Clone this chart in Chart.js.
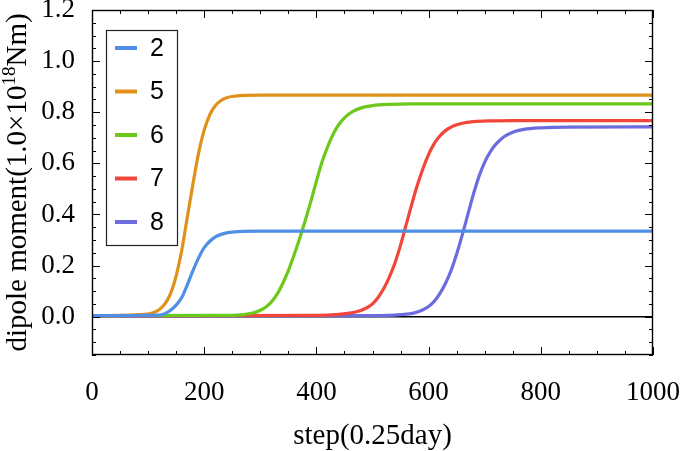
<!DOCTYPE html>
<html>
<head>
<meta charset="utf-8">
<script src="https://cdn.jsdelivr.net/npm/chart.js@4"></script>
<style>
  html, body { margin: 0; padding: 0; background: #fff; }
</style>
</head>
<body>
<canvas id="chart" width="685" height="451"></canvas>
<script>
// values
const seriesNames = ['2', '5', '6', '7', '8'];
const seriesColors = ['#4f8fe6', '#e0911c', '#6cc81a', '#f2463a', '#6c6ce0'];

const steps2 = [0, 120, 130, 140, 150, 160, 170, 180, 190, 200, 210, 220, 230, 240, 255, 270, 300, 1000];
const vals2  = [0.004, 0.006, 0.012, 0.025, 0.045, 0.075, 0.125, 0.18, 0.23, 0.27, 0.295, 0.312, 0.322, 0.328, 0.332, 0.334, 0.335, 0.335];

const steps5 = [0, 100, 110, 120, 130, 140, 150, 160, 170, 180, 190, 200, 210, 220, 230, 240, 255, 275, 300, 1000];
const vals5  = [0.004, 0.01, 0.016, 0.028, 0.05, 0.09, 0.16, 0.26, 0.39, 0.52, 0.64, 0.73, 0.79, 0.826, 0.846, 0.857, 0.863, 0.866, 0.867, 0.867];

const steps6 = [0, 250, 270, 290, 300, 310, 320, 330, 340, 350, 360, 370, 380, 390, 400, 410, 420, 430, 440, 450, 465, 480, 500, 530, 570, 1000];
const vals6  = [0.004, 0.005, 0.008, 0.016, 0.025, 0.038, 0.058, 0.088, 0.13, 0.18, 0.24, 0.305, 0.375, 0.45, 0.53, 0.605, 0.665, 0.715, 0.752, 0.778, 0.803, 0.817, 0.826, 0.831, 0.833, 0.833];

const steps7 = [0, 400, 440, 470, 490, 500, 510, 520, 530, 540, 550, 560, 570, 580, 590, 600, 610, 620, 630, 645, 660, 680, 710, 750, 1000];
const vals7  = [0.003, 0.005, 0.009, 0.018, 0.035, 0.05, 0.075, 0.11, 0.155, 0.21, 0.28, 0.36, 0.44, 0.515, 0.58, 0.635, 0.677, 0.707, 0.728, 0.747, 0.757, 0.763, 0.766, 0.767, 0.767];

const steps8 = [0, 500, 550, 575, 590, 600, 610, 620, 630, 640, 650, 660, 670, 680, 690, 700, 710, 720, 735, 750, 770, 800, 850, 1000];
const vals8  = [0.002, 0.004, 0.008, 0.015, 0.027, 0.04, 0.06, 0.09, 0.13, 0.18, 0.245, 0.32, 0.4, 0.48, 0.55, 0.605, 0.645, 0.675, 0.705, 0.722, 0.733, 0.739, 0.742, 0.743];

const xTicks = [0, 200, 400, 600, 800, 1000];
const yTicks = [0, 0.2, 0.4, 0.6, 0.8, 1.0, 1.2];
const xTitle = 'step(0.25day)';
const yTitleParts = ['dipole moment(1.0×10', '18', 'Nm)'];

const allSteps = [steps2, steps5, steps6, steps7, steps8];
const allVals = [vals2, vals5, vals6, vals7, vals8];

const toPoints = (xs, ys) => xs.map((x, i) => ({x: x, y: ys[i]}));

const datasets = seriesNames.map((name, i) => ({
  label: name,
  data: toPoints(allSteps[i], allVals[i]),
  borderColor: seriesColors[i],
  backgroundColor: seriesColors[i],
  borderWidth: 3.2,
  pointRadius: 0,
  fill: false,
  cubicInterpolationMode: 'monotone'
}));

const serif = "'Liberation Serif', 'Times New Roman', serif";
const sans = "'Liberation Sans', Arial, sans-serif";

// frame with inward ticks, zero line, boxed legend and the y title
const framePlugin = {
  id: 'frame',
  beforeDatasetsDraw(chart) {
    const ctx = chart.ctx;
    const area = chart.chartArea;
    const y0 = chart.scales.y.getPixelForValue(0);
    ctx.save();
    ctx.strokeStyle = '#000';
    ctx.lineWidth = 1.5;
    ctx.beginPath();
    ctx.moveTo(area.left, y0);
    ctx.lineTo(area.right, y0);
    ctx.stroke();
    ctx.restore();
  },
  afterDraw(chart) {
    const ctx = chart.ctx;
    const area = chart.chartArea;
    const xs = chart.scales.x;
    const ys = chart.scales.y;
    ctx.save();
    ctx.strokeStyle = '#000';
    ctx.lineWidth = 1.4;
    ctx.strokeRect(area.left + 0.5, area.top + 0.5, area.right - area.left - 1, area.bottom - area.top - 1);

    ctx.lineWidth = 1;
    ctx.beginPath();
    for (let v = 0; v <= 1000; v += 50) {
      const px = Math.round(xs.getPixelForValue(v)) + 0.5;
      const len = v % 200 === 0 ? 8 : 4;
      ctx.moveTo(px, area.bottom);
      ctx.lineTo(px, area.bottom - len);
      ctx.moveTo(px, area.top);
      ctx.lineTo(px, area.top + len);
    }
    for (let k = -3; k <= 24; k++) {
      const v = k * 0.05;
      const py = Math.round(ys.getPixelForValue(v)) + 0.5;
      const len = k % 4 === 0 ? 8 : 4;
      ctx.moveTo(area.left, py);
      ctx.lineTo(area.left + len, py);
      ctx.moveTo(area.right, py);
      ctx.lineTo(area.right - len, py);
    }
    ctx.stroke();

    // legend
    const lx = 106, ly = 30, lw = 71, lh = 215;
    ctx.fillStyle = '#fff';
    ctx.fillRect(lx, ly, lw, lh);
    ctx.strokeStyle = '#222';
    ctx.lineWidth = 1.2;
    ctx.strokeRect(lx + 0.5, ly + 0.5, lw, lh);
    ctx.font = '25px ' + sans;
    ctx.textBaseline = 'middle';
    ctx.textAlign = 'left';
    chart.data.datasets.forEach((ds, i) => {
      const ey = ly + 18 + i * 43.5;
      ctx.strokeStyle = ds.borderColor;
      ctx.lineWidth = 4;
      ctx.beginPath();
      ctx.moveTo(lx + 9, ey);
      ctx.lineTo(lx + 31, ey);
      ctx.stroke();
      ctx.fillStyle = '#000';
      ctx.fillText(ds.label, lx + 44, ey + 1);
    });

    // y title with a real superscript
    const big = '29px ' + serif;
    const small = '19px ' + serif;
    ctx.font = big;
    const w1 = ctx.measureText(yTitleParts[0]).width;
    const w3 = ctx.measureText(yTitleParts[2]).width;
    ctx.font = small;
    const w2 = ctx.measureText(yTitleParts[1]).width;
    const total = w1 + w2 + w3;
    const cy = (area.top + area.bottom) / 2;
    ctx.translate(26, cy);
    ctx.rotate(-Math.PI / 2);
    ctx.fillStyle = '#000';
    ctx.textBaseline = 'alphabetic';
    let x = -total / 2;
    ctx.font = big;
    ctx.fillText(yTitleParts[0], x, 0);
    x += w1;
    ctx.font = small;
    ctx.fillText(yTitleParts[1], x, -11);
    x += w2;
    ctx.font = big;
    ctx.fillText(yTitleParts[2], x, 0);
    ctx.restore();
  }
};

const config = {
  type: 'line',
  data: { datasets: datasets },
  options: {
    responsive: false,
    devicePixelRatio: 1,
    animation: false,
    layout: { padding: { top: 10, right: 32, left: 0, bottom: 0 } },
    plugins: {
      legend: { display: false },
      tooltip: { enabled: false }
    },
    scales: {
      x: {
        type: 'linear',
        min: 0,
        max: 1000,
        afterBuildTicks: (s) => { s.ticks = xTicks.map(v => ({value: v})); },
        afterFit: (s) => { s.height = 96; s.paddingLeft = 0; s.paddingRight = 0; },
        grid: { display: false },
        border: { display: false },
        ticks: {
          color: '#000',
          font: { family: serif, size: 27 },
          padding: 14,
          maxRotation: 0,
          autoSkip: false,
          callback: (v) => String(v)
        },
        title: {
          display: true,
          text: xTitle,
          color: '#000',
          font: { family: serif, size: 29, lineHeight: 1 },
          padding: { top: 0, bottom: 0 }
        }
      },
      y: {
        type: 'linear',
        min: -0.15,
        max: 1.2,
        afterBuildTicks: (s) => { s.ticks = yTicks.map(v => ({value: v})); },
        afterFit: (s) => { s.width = 92; s.paddingTop = 0; s.paddingBottom = 0; },
        grid: { display: false },
        border: { display: false },
        ticks: {
          color: '#000',
          font: { family: serif, size: 27 },
          padding: 9,
          callback: (v) => v.toFixed(1)
        }
      }
    }
  },
  plugins: [framePlugin]
};

const myChart = new Chart(document.getElementById('chart'), config);
</script>
</body>
</html>
